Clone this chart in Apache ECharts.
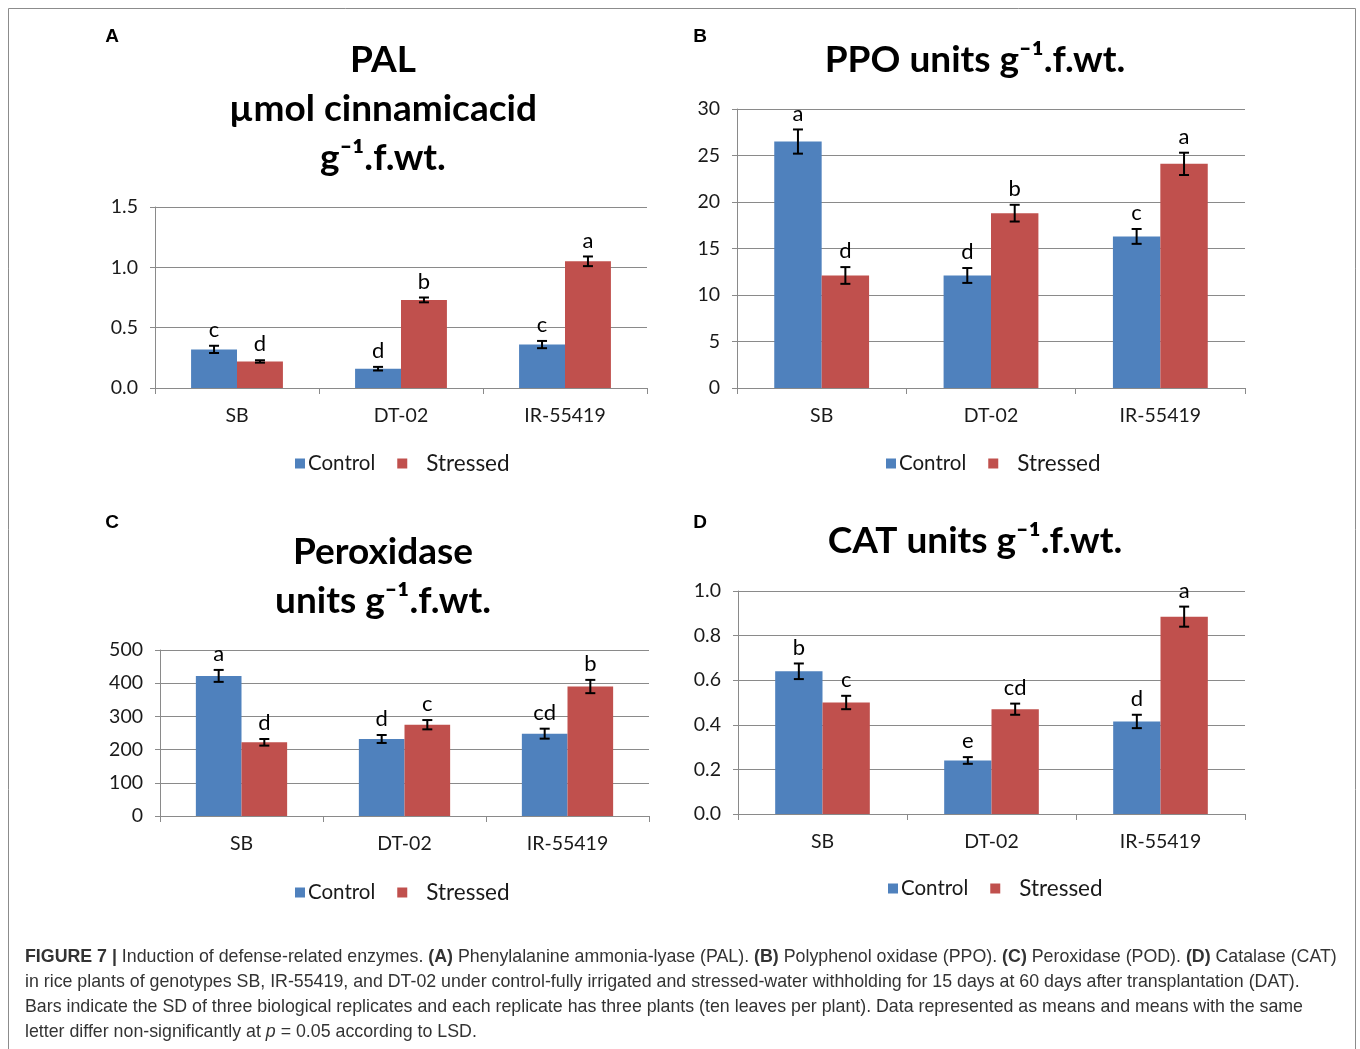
<!DOCTYPE html>
<html>
<head>
<meta charset="utf-8">
<script src="https://cdn.jsdelivr.net/npm/echarts@6/dist/echarts.min.js"></script>
<style>
  html, body { margin: 0; padding: 0; background: #fff; }
  #chart { width: 1360px; height: 1049px; }
</style>
</head>
<body>
<div id="chart"></div>
<script>
// ---------- data ----------
const categories = ['SB', 'DT-02', 'IR-55419'];
const seriesNames = ['Control', 'Stressed'];

// A: PAL
const palControl = [0.32, 0.16, 0.36];
const palControlSD = [0.03, 0.015, 0.03];
const palControlLetters = ['c', 'd', 'c'];
const palStressed = [0.22, 0.73, 1.05];
const palStressedSD = [0.01, 0.02, 0.04];
const palStressedLetters = ['d', 'b', 'a'];
const palTicks = [0, 1.5, 0.5];

// B: PPO
const ppoControl = [26.5, 12.1, 16.3];
const ppoControlSD = [1.3, 0.8, 0.8];
const ppoControlLetters = ['a', 'd', 'c'];
const ppoStressed = [12.1, 18.8, 24.1];
const ppoStressedSD = [0.9, 0.9, 1.2];
const ppoStressedLetters = ['d', 'b', 'a'];
const ppoTicks = [0, 30, 5];

// C: Peroxidase
const podControl = [422, 232, 248];
const podControlSD = [18, 12, 15];
const podControlLetters = ['a', 'd', 'cd'];
const podStressed = [222, 275, 390];
const podStressedSD = [10, 14, 20];
const podStressedLetters = ['d', 'c', 'b'];
const podTicks = [0, 500, 100];

// D: CAT
const catControl = [0.64, 0.24, 0.415];
const catControlSD = [0.035, 0.015, 0.03];
const catControlLetters = ['b', 'e', 'd'];
const catStressed = [0.50, 0.47, 0.885];
const catStressedSD = [0.03, 0.025, 0.045];
const catStressedLetters = ['c', 'cd', 'a'];
const catTicks = [0, 1.0, 0.2];

// ---------- layout / style ----------
const FONT = 'Lato, "Open Sans", sans-serif';
const BLUE = '#4F81BD';
const RED = '#C0504D';
const GRIDC = '#8a8a8a';
const CAT_GAP = 0.44;

const panels = [
  { grid: { left: 155, top: 207, width: 492, height: 181 }, ticks: palTicks, dec: 1,
    ctrl: palControl, ctrlSD: palControlSD, ctrlL: palControlLetters,
    str: palStressed, strSD: palStressedSD, strL: palStressedLetters,
    legend: { left: 290, top: 447 } },
  { grid: { left: 737, top: 109, width: 508, height: 279 }, ticks: ppoTicks, dec: 0,
    ctrl: ppoControl, ctrlSD: ppoControlSD, ctrlL: ppoControlLetters,
    str: ppoStressed, strSD: ppoStressedSD, strL: ppoStressedLetters,
    legend: { left: 881, top: 447 } },
  { grid: { left: 160, top: 650, width: 489, height: 166 }, ticks: podTicks, dec: 0,
    ctrl: podControl, ctrlSD: podControlSD, ctrlL: podControlLetters,
    str: podStressed, strSD: podStressedSD, strL: podStressedLetters,
    legend: { left: 290, top: 876 } },
  { grid: { left: 738, top: 591, width: 507, height: 223 }, ticks: catTicks, dec: 1,
    ctrl: catControl, ctrlSD: catControlSD, ctrlL: catControlLetters,
    str: catStressed, strSD: catStressedSD, strL: catStressedLetters,
    legend: { left: 883, top: 872 } }
];

const grid = [], xAxis = [], yAxis = [], series = [], legend = [];

panels.forEach((p, i) => {
  grid.push(p.grid);
  xAxis.push({
    type: 'category', gridIndex: i, data: categories,
    axisLine: { lineStyle: { color: GRIDC, width: 1 } },
    axisTick: { show: true, length: 6, lineStyle: { color: GRIDC } },
    axisLabel: { color: '#1a1a1a', fontSize: 19.5, fontFamily: FONT, margin: 18 }
  });
  yAxis.push({
    type: 'value', gridIndex: i, min: p.ticks[0], max: p.ticks[1], interval: p.ticks[2],
    axisLine: { show: true, lineStyle: { color: GRIDC, width: 1 } },
    axisTick: { show: true, length: 5, lineStyle: { color: GRIDC } },
    splitLine: { show: true, lineStyle: { color: GRIDC, width: 1 } },
    axisLabel: { color: '#1a1a1a', fontSize: 19.5, fontFamily: FONT, margin: 17,
      formatter: v => v.toFixed(p.dec) }
  });
  series.push({
    name: 'Control', type: 'bar', xAxisIndex: i, yAxisIndex: i, data: p.ctrl,
    itemStyle: { color: BLUE }, barGap: '0%', barCategoryGap: (CAT_GAP * 100) + '%'
  });
  series.push({
    name: 'Stressed', type: 'bar', xAxisIndex: i, yAxisIndex: i, data: p.str,
    itemStyle: { color: RED }, barGap: '0%', barCategoryGap: (CAT_GAP * 100) + '%'
  });
  [[p.ctrl, p.ctrlSD, p.ctrlL, -1], [p.str, p.strSD, p.strL, 1]].forEach(([vals, sds, letters, side]) => {
    series.push({
      type: 'custom', xAxisIndex: i, yAxisIndex: i, z: 10, silent: true,
      data: vals.map((v, k) => [k, v, sds[k]]),
      encode: { x: 0, y: 1 },
      renderItem: (params, api) => {
        const k = api.value(0), v = api.value(1), e = api.value(2);
        const band = api.size([1, 0])[0];
        const barW = band * (1 - CAT_GAP) / 2;
        const c = api.coord([k, v]);
        const x = c[0] + side * barW / 2;
        const yT = api.coord([k, v + e])[1];
        const yB = api.coord([k, v - e])[1];
        const cap = 5;
        const ls = { stroke: '#000', lineWidth: 2 };
        return {
          type: 'group',
          children: [
            { type: 'line', shape: { x1: x, y1: yT, x2: x, y2: yB }, style: ls },
            { type: 'line', shape: { x1: x - cap, y1: yT, x2: x + cap, y2: yT }, style: ls },
            { type: 'line', shape: { x1: x - cap, y1: yB, x2: x + cap, y2: yB }, style: ls },
            { type: 'text', x: x, y: yT - 5,
              style: { text: letters[k], fill: '#000', font: '22px ' + FONT,
                       textAlign: 'center', textVerticalAlign: 'bottom' } }
          ]
        };
      }
    });
  });
  legend.push({
    data: seriesNames, left: p.legend.left, top: p.legend.top, orient: 'horizontal',
    icon: 'rect', itemWidth: 10, itemHeight: 10, itemGap: 22,
    formatter: n => n === 'Stressed' ? '{s|Stressed}' : '{c|Control}',
    textStyle: {
      fontFamily: FONT, color: '#1a1a1a', padding: [0, 0, 0, -2],
      rich: {
        c: { fontSize: 20.5, fontFamily: FONT, color: '#1a1a1a' },
        s: { fontSize: 22.5, fontFamily: FONT, color: '#1a1a1a', padding: [0, 0, 0, 16] }
      }
    },
    selectedMode: false
  });
});

const titleStyle = (t) => ({ text: t, fill: '#000', font: 'bold 37px ' + FONT,
  textAlign: 'center', textVerticalAlign: 'top', lineHeight: 49 });

const captionLines = [
  '{b|FIGURE 7 |} Induction of defense-related enzymes. {b|(A)} Phenylalanine ammonia-lyase (PAL). {b|(B)} Polyphenol oxidase (PPO). {b|(C)} Peroxidase (POD). {b|(D)} Catalase (CAT)',
  'in rice plants of genotypes SB, IR-55419, and DT-02 under control-fully irrigated and stressed-water withholding for 15 days at 60 days after transplantation (DAT).',
  'Bars indicate the SD of three biological replicates and each replicate has three plants (ten leaves per plant). Data represented as means and means with the same',
  'letter differ non-significantly at {i|p} = 0.05 according to LSD.'
];
const capFont = '"Liberation Sans", Arial, sans-serif';
const CAPSZ = 17.8;

const graphic = [
  { type: 'rect', shape: { x: 8.5, y: 8.5, width: 1347, height: 1060 },
    style: { fill: 'none', stroke: '#8c8c8c', lineWidth: 1 }, silent: true },
  { type: 'text', x: 112, y: 37, style: { text: 'A', fill: '#000', font: 'bold 19px ' + capFont, textAlign: 'center', textVerticalAlign: 'middle' } },
  { type: 'text', x: 700, y: 37, style: { text: 'B', fill: '#000', font: 'bold 19px ' + capFont, textAlign: 'center', textVerticalAlign: 'middle' } },
  { type: 'text', x: 112, y: 523, style: { text: 'C', fill: '#000', font: 'bold 19px ' + capFont, textAlign: 'center', textVerticalAlign: 'middle' } },
  { type: 'text', x: 700, y: 523, style: { text: 'D', fill: '#000', font: 'bold 19px ' + capFont, textAlign: 'center', textVerticalAlign: 'middle' } },
  { type: 'text', x: 383, y: 36, style: titleStyle('PAL\nµmol cinnamicacid\ng⁻¹.f.wt.') },
  { type: 'text', x: 975, y: 36, style: titleStyle('PPO units g⁻¹.f.wt.') },
  { type: 'text', x: 383, y: 528, style: titleStyle('Peroxidase\nunits g⁻¹.f.wt.') },
  { type: 'text', x: 975, y: 517, style: titleStyle('CAT units g⁻¹.f.wt.') }
];
captionLines.forEach((t, k) => {
  graphic.push({
    type: 'text', x: 25, y: 957 + k * 25,
    style: {
      text: t, fill: '#333', fontSize: CAPSZ, fontFamily: capFont,
      textAlign: 'left', textVerticalAlign: 'middle',
      rich: {
        b: { fontWeight: 'bold', fontSize: CAPSZ, fontFamily: capFont, fill: '#333' },
        i: { fontStyle: 'italic', fontSize: CAPSZ, fontFamily: capFont, fill: '#333' }
      }
    }
  });
});

const chart = echarts.init(document.getElementById('chart'), null, { renderer: 'canvas' });
chart.setOption({
  animation: false,
  backgroundColor: '#fff',
  grid, xAxis, yAxis, series, legend, graphic
});
</script>
</body>
</html>
